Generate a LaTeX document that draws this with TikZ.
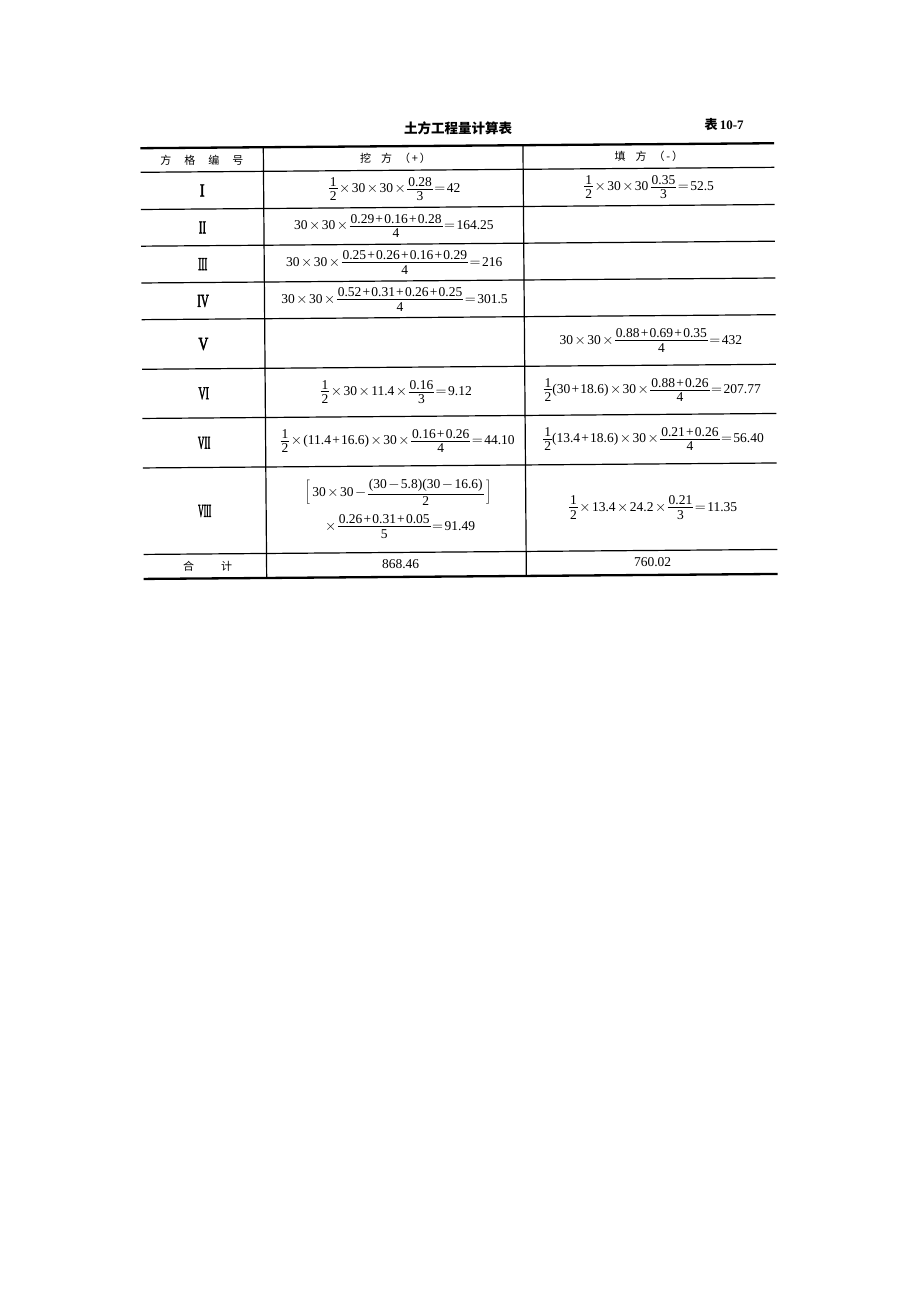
\documentclass[tikz,border=0pt]{standalone}
\usepackage{fontspec}
\setmainfont{Liberation Serif}
\newfontfamily\cjk{Noto Sans CJK SC}
\newfontfamily\rnfont[FakeBold=3]{Liberation Serif}
\newcommand{\RN}[2]{\scalebox{#1}[1]{#2}}
\newcommand{\gap}[1]{\hspace*{#1}}
\newcommand{\X}{\kern1.5pt$\times$\kern1.5pt}
\newcommand{\Eq}{\kern1.5pt$=$\kern1.5pt}
\newcommand{\Mi}{\kern1.5pt$-$\kern1.5pt}
\newcommand{\Pl}{\kern1.2pt+\kern1.2pt}
\newcommand{\F}[2]{\ensuremath{\vcenter{\offinterlineskip\halign{\hfil\kern1pt##\kern1pt\hfil\cr #1\cr\noalign{\kern2.2pt\hrule height0.7pt\kern2.4pt}#2\cr}}}}
\tikzset{
  thickrule/.style={line width=2.3pt},
  rowrule/.style={line width=1.2pt},
  colrule/.style={line width=1.2pt},
  cell/.style={inner sep=0pt, font=\fontsize{13.5}{15}\selectfont},
  hdr/.style={inner sep=0pt, font=\cjk\fontsize{11}{12}\selectfont},
  rn/.style={inner sep=0pt, font=\rnfont\fontsize{18}{19}\selectfont},
  ttl/.style={inner sep=0pt, font=\cjk\bfseries\fontsize{13.5}{15}\selectfont},
}
\begin{document}
\begin{tikzpicture}[x=1pt,y=-1pt]
\useasboundingbox (0,0) rectangle (920,1302);
\fill[white] (0,0) rectangle (920,1302);
\begin{scope}[rotate around={0.45:(460,361)}]
% title
\node[ttl] (title) at (460,128) {土方工程量计算表};
\node[inner sep=0pt, font=\bfseries\fontsize{13}{15}\selectfont] (tabno) at (726,127) {{\cjk 表}\,10-7};
% coordinates of the grid
\foreach \n/\y in {t/145.7,h/169.8,a/207,b/243.7,c/280.5,d/317.2,e/366.8,f/416,g/465.5,k/552,z/576.5}{
  \coordinate (L\n) at (142,\y);
  \coordinate (R\n) at (776,\y);
  \coordinate (P\n) at (265,\y);
  \coordinate (Q\n) at (524.7,\y);
}
\draw[thickrule] (Lt) -- (Rt);
\draw[thickrule] (Lz) -- (Rz);
\foreach \n in {h,a,b,c,d,e,f,g,k}{ \draw[rowrule] (L\n) -- (R\n); }
\draw[colrule] (Pt) -- (Pz);
\draw[colrule] (Qt) -- (Qz);
% header
\node[hdr] (h1) at (203.5,157.8) {方\gap{13pt}格\gap{13pt}编\gap{13pt}号};
\node[hdr] (h2) at (397,157.8) {挖\gap{10pt}方\gap{7pt}（\,+\,）};
\node[hdr] (h3) at (650.5,157.8) {填\gap{10pt}方\gap{7pt}（\,-\,）};
% roman numerals
\node[rn] (n1) at (203.5,188.4) {\RN{0.8}{I}};
\node[rn] (n2) at (203.5,225.4) {\RN{0.6}{II}};
\node[rn] (n3) at (203.5,262.1) {\RN{0.5}{III}};
\node[rn] (n4) at (203.5,299) {\RN{0.6}{IV}};
\node[rn] (n5) at (203.5,342) {\RN{0.75}{V}};
\node[rn] (n6) at (203.5,391.4) {\RN{0.55}{VI}};
\node[rn] (n7) at (203.5,440.8) {\RN{0.5}{VII}};
\node[rn] (n8) at (203.5,509) {\RN{0.42}{VIII}};
% column 2 (excavation)
\node[cell] (c21) at (396,188.4) {\F{1}{2}\X30\X30\X\F{0.28}{3}\Eq42};
\node[cell] (c22) at (395,225.4) {30\X30\X\F{0.29\Pl0.16\Pl0.28}{4}\Eq164.25};
\node[cell] (c23) at (395,262.1) {30\X30\X\F{0.25\Pl0.26\Pl0.16\Pl0.29}{4}\Eq216};
\node[cell] (c24) at (395,299) {30\X30\X\F{0.52\Pl0.31\Pl0.26\Pl0.25}{4}\Eq301.5};
\node[cell] (c26) at (396,391.4) {\F{1}{2}\X30\X11.4\X\F{0.16}{3}\Eq9.12};
\node[cell] (c27) at (397,440.8) {\F{1}{2}\X(11.4\Pl16.6)\X30\X\F{0.16\Pl0.26}{4}\Eq44.10};
\node[cell] (c28a) at (397,492) {$\displaystyle\left[\,\mbox{30\X30\Mi}\F{(30\Mi5.8)(30\Mi16.6)}{2}\,\right]$};
\node[cell] (c28b) at (398,526) {\X\F{0.26\Pl0.31\Pl0.05}{5}\Eq91.49};
% column 3 (fill)
\node[cell] (c31) at (650.5,188.4) {\F{1}{2}\X30\X30\,\F{0.35}{3}\Eq52.5};
\node[cell] (c35) at (651,342) {30\X30\X\F{0.88\Pl0.69\Pl0.35}{4}\Eq432};
\node[cell] (c36) at (652,391.4) {\F{1}{2}(30\Pl18.6)\X30\X\F{0.88\Pl0.26}{4}\Eq207.77};
\node[cell] (c37) at (653,440.8) {\F{1}{2}(13.4\Pl18.6)\X30\X\F{0.21\Pl0.26}{4}\Eq56.40};
\node[cell] (c38) at (652,509) {\F{1}{2}\X13.4\X24.2\X\F{0.21}{3}\Eq11.35};
% totals
\node[hdr] (tot) at (206,564) {合\gap{27pt}计};
\node[cell] (s2) at (399,564) {868.46};
\node[cell] (s3) at (651,564) {760.02};
\end{scope}
\end{tikzpicture}
\end{document}
